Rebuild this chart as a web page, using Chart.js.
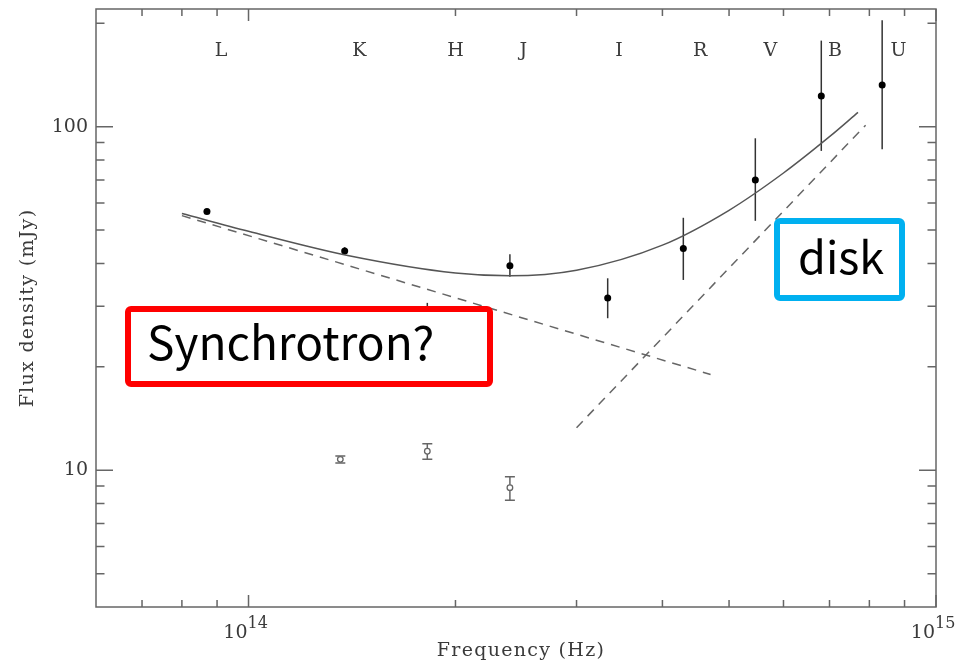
<!DOCTYPE html>
<html lang="en">
<head>
    <meta charset="UTF-8">
    <title>Spectral energy distribution</title>
    <script src="https://cdn.jsdelivr.net/npm/chart.js"></script>
    <style>
        html, body { margin: 0; padding: 0; background: #fff; }
        #wrap { width: 961px; height: 668px; }
    </style>
</head>
<body>
    <div id="wrap"><canvas id="sed"></canvas></div>
    <script>
        // photometric bands shown along the top
        const bandNames = ['L', 'K', 'H', 'J', 'I', 'R', 'V', 'B', 'U'];
        const bandFreq = [9.12e13, 1.45e14, 2.0e14, 2.51e14, 3.46e14, 4.54e14, 5.74e14, 7.13e14, 8.82e14];
        const bandLabelFlux = 166;

        // filled points (mJy) with error bar ends
        const obsFreq = [8.7e13, 1.38e14, 1.82e14, 2.40e14, 3.33e14, 4.29e14, 5.46e14, 6.81e14, 8.35e14];
        const obsFlux = [56.6, 43.5, 26.5, 39.4, 31.7, 44.2, 70.0, 122.8, 132.2];
        const obsLo = [56.6, 42.4, 22.8, 36.6, 27.7, 35.8, 53.2, 85.0, 85.9];
        const obsHi = [56.6, 44.6, 30.7, 42.5, 36.2, 54.3, 92.5, 178, 204];

        // open points, low state
        const lowFreq = [1.36e14, 1.82e14, 2.40e14];
        const lowFlux = [10.76, 11.36, 8.90];
        const lowLo = [10.5, 10.76, 8.18];
        const lowHi = [11.0, 11.95, 9.58];

        // total model curve
        const modelFreq = [8.0e13, 1.0e14, 1.4e14, 2.0e14, 2.4e14, 3.0e14, 4.0e14, 5.0e14, 6.0e14, 7.0e14, 7.7e14];
        const modelFlux = [55.9, 49.6, 42.1, 37.5, 36.8, 38.2, 45.2, 57.1, 73.3, 93.5, 110];

        // power-law components
        const syncFreq = [8.0e13, 4.7e14];
        const syncFlux = [55.1, 19.0];
        const diskFreq = [3.0e14, 7.9e14];
        const diskFlux = [13.3, 101];

        const xMajor = [1e14, 1e15];
        const xMinor = [7e13, 8e13, 9e13, 2e14, 3e14, 4e14, 5e14, 6e14, 7e14, 8e14, 9e14];
        const yMajor = [10, 100];
        const yMinor = [5, 6, 7, 8, 9, 20, 30, 40, 50, 60, 70, 80, 90, 200];

        const ink = '#3a3a3a';
        const serif = '"DejaVu Serif", serif';

        const toPts = (xs, ys) => xs.map((x, i) => ({ x: x, y: ys[i] }));

        const errorBars = {
            id: 'errorBars',
            beforeDatasetsDraw(chart) {
                const { ctx, scales: { x, y } } = chart;
                ctx.save();
                ctx.strokeStyle = '#333';
                ctx.lineWidth = 1.5;
                obsFreq.forEach((f, i) => {
                    if (obsHi[i] === obsLo[i]) return;
                    const px = x.getPixelForValue(f);
                    ctx.beginPath();
                    ctx.moveTo(px, y.getPixelForValue(obsLo[i]));
                    ctx.lineTo(px, y.getPixelForValue(obsHi[i]));
                    ctx.stroke();
                });
                ctx.strokeStyle = '#666';
                lowFreq.forEach((f, i) => {
                    const px = x.getPixelForValue(f);
                    const lo = y.getPixelForValue(lowLo[i]);
                    const hi = y.getPixelForValue(lowHi[i]);
                    ctx.beginPath();
                    ctx.moveTo(px, lo); ctx.lineTo(px, hi);
                    ctx.moveTo(px - 5, lo); ctx.lineTo(px + 5, lo);
                    ctx.moveTo(px - 5, hi); ctx.lineTo(px + 5, hi);
                    ctx.stroke();
                });
                ctx.restore();
            }
        };

        const frame = {
            id: 'frame',
            afterDraw(chart) {
                const { ctx, chartArea: a, scales: { x, y } } = chart;
                ctx.save();
                ctx.strokeStyle = '#666';
                ctx.lineWidth = 1.5;
                ctx.strokeRect(a.left, a.top, a.right - a.left, a.bottom - a.top);

                ctx.beginPath();
                const xt = (v, len) => {
                    const px = x.getPixelForValue(v);
                    ctx.moveTo(px, a.bottom); ctx.lineTo(px, a.bottom - len);
                    ctx.moveTo(px, a.top); ctx.lineTo(px, a.top + len);
                };
                xMajor.forEach(v => xt(v, 12));
                xMinor.forEach(v => xt(v, 7));
                const yt = (v, len) => {
                    const py = y.getPixelForValue(v);
                    ctx.moveTo(a.left, py); ctx.lineTo(a.left + len, py);
                    ctx.moveTo(a.right, py); ctx.lineTo(a.right - len, py);
                };
                yMajor.forEach(v => yt(v, 17));
                yMinor.forEach(v => yt(v, 8.5));
                ctx.stroke();

                // tick labels
                ctx.fillStyle = ink;
                ctx.font = '19px ' + serif;
                ctx.textAlign = 'right';
                ctx.textBaseline = 'middle';
                yMajor.forEach(v => ctx.fillText(String(v), a.left - 8, y.getPixelForValue(v)));

                xMajor.forEach(v => {
                    const px = x.getPixelForValue(v);
                    ctx.font = '19px ' + serif;
                    ctx.textAlign = 'right';
                    ctx.textBaseline = 'alphabetic';
                    ctx.fillText('10', px - 1, a.bottom + 31);
                    ctx.font = '16px ' + serif;
                    ctx.textAlign = 'left';
                    ctx.fillText(String(Math.round(Math.log10(v))), px - 1, a.bottom + 21);
                });

                // band names
                ctx.font = '19px ' + serif;
                ctx.textAlign = 'center';
                ctx.textBaseline = 'middle';
                const by = y.getPixelForValue(bandLabelFlux);
                bandNames.forEach((n, i) => ctx.fillText(n, x.getPixelForValue(bandFreq[i]), by));

                // axis titles
                ctx.font = '19px ' + serif;
                ctx.letterSpacing = '1.3px';
                ctx.textAlign = 'center';
                ctx.textBaseline = 'alphabetic';
                ctx.fillText('Frequency (Hz)', 521, 656);
                ctx.save();
                ctx.translate(33, 308);
                ctx.rotate(-Math.PI / 2);
                ctx.fillText('Flux density (mJy)', 0, 0);
                ctx.restore();
                ctx.letterSpacing = '0px';

                // labelled boxes
                const box = (bx, by2, w, h, color, text, size, tx, ty) => {
                    ctx.fillStyle = '#fff';
                    ctx.strokeStyle = color;
                    ctx.lineWidth = 6;
                    ctx.beginPath();
                    ctx.roundRect(bx, by2, w, h, 3);
                    ctx.fill();
                    ctx.stroke();
                    ctx.fillStyle = '#000';
                    ctx.font = size + 'px "Noto Sans CJK JP", "Noto Sans", sans-serif';
                    ctx.textAlign = 'left';
                    ctx.textBaseline = 'alphabetic';
                    ctx.fillText(text, tx, ty);
                };
                box(128, 309, 362, 75, '#ff0000', 'Synchrotron?', 46, 147, 360);
                box(777, 221, 125, 77, '#00b0f0', 'disk', 45, 798, 274);
                ctx.restore();
            }
        };

        new Chart(document.getElementById('sed'), {
            type: 'scatter',
            data: {
                datasets: [
                    {
                        data: toPts(modelFreq, modelFlux),
                        showLine: true,
                        borderColor: '#555',
                        borderWidth: 1.5,
                        cubicInterpolationMode: 'monotone',
                        pointRadius: 0
                    },
                    {
                        data: toPts(syncFreq, syncFlux),
                        showLine: true,
                        borderColor: '#666',
                        borderWidth: 1.5,
                        borderDash: [9, 7],
                        pointRadius: 0
                    },
                    {
                        data: toPts(diskFreq, diskFlux),
                        showLine: true,
                        borderColor: '#666',
                        borderWidth: 1.5,
                        borderDash: [9, 7],
                        pointRadius: 0
                    },
                    {
                        data: toPts(obsFreq, obsFlux),
                        pointRadius: 3.5,
                        backgroundColor: '#000',
                        borderColor: '#000',
                        borderWidth: 0
                    },
                    {
                        data: toPts(lowFreq, lowFlux),
                        pointRadius: 2.8,
                        backgroundColor: '#fff',
                        borderColor: '#666',
                        borderWidth: 1.3
                    }
                ]
            },
            options: {
                responsive: true,
                maintainAspectRatio: false,
                animation: false,
                layout: { padding: { top: 9, right: 25, left: 0, bottom: 0 } },
                plugins: { legend: { display: false }, tooltip: { enabled: false } },
                scales: {
                    x: {
                        type: 'logarithmic',
                        min: 6e13,
                        max: 1e15,
                        grid: { display: false },
                        border: { display: false },
                        ticks: { display: false },
                        afterFit(s) { s.height = 61; }
                    },
                    y: {
                        type: 'logarithmic',
                        min: 4,
                        max: 220,
                        grid: { display: false },
                        border: { display: false },
                        ticks: { display: false },
                        afterFit(s) { s.width = 96; }
                    }
                }
            },
            plugins: [errorBars, frame]
        });
    </script>
</body>
</html>
